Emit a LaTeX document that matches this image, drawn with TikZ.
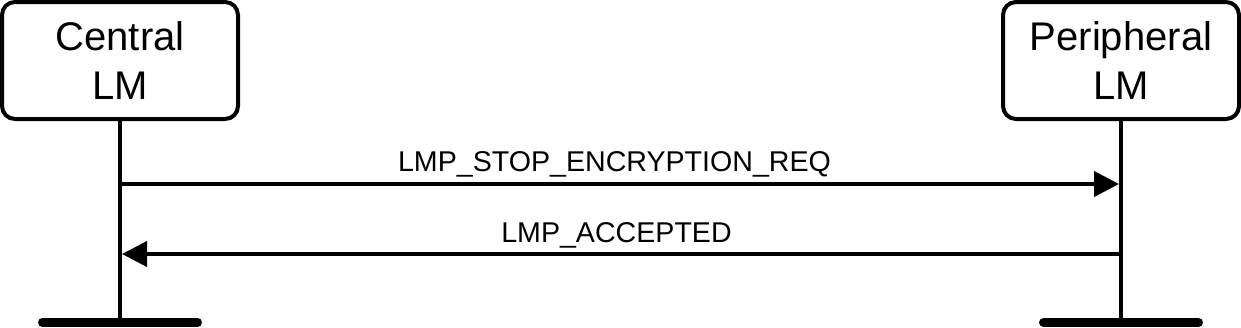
\documentclass[tikz,border=0pt]{standalone}
\usepackage{fontspec}
\setmainfont{Liberation Sans}
\usetikzlibrary{arrows.meta}
\begin{document}
\begin{tikzpicture}[x=1pt,y=-1pt,
  entity/.style={draw, line width=4pt, rounded corners=13pt, minimum width=236pt, minimum height=117pt, inner sep=0pt, align=center, font=\fontsize{40}{49}\selectfont},
  lifeline/.style={line width=4pt},
  endbar/.style={line width=9pt, line cap=round},
  msg/.style={line width=4pt, -{Triangle[length=25pt,width=25pt]}, shorten >=2pt},
  msglabel/.style={midway, anchor=base, font=\fontsize{28.6}{34}\selectfont}]
\useasboundingbox (0,0) rectangle (1241,327);
\node[entity] (cen) at (120,60.5) {Central\\LM};
\node[entity] (per) at (1121,60.5) {Peripheral\\LM};
\coordinate (cenEnd) at (120,322.5);
\coordinate (perEnd) at (1121,322.5);
\coordinate (cenBarL) at (42.5,322.5);
\coordinate (cenBarR) at (197.5,322.5);
\coordinate (perBarL) at (1043.5,322.5);
\coordinate (perBarR) at (1198.5,322.5);
\draw[lifeline] (cen.south) -- (cenEnd);
\draw[lifeline] (per.south) -- (perEnd);
\draw[endbar] (cenBarL) -- (cenBarR);
\draw[endbar] (perBarL) -- (perBarR);
\coordinate (m1c) at (120,184);
\coordinate (m1p) at (1121,184);
\coordinate (m2c) at (120,254);
\coordinate (m2p) at (1121,254);
\draw[msg] (m1c) -- node[msglabel, xshift=-6pt, yshift=13pt] (l1) {LMP\_STOP\_ENCRYPTION\_REQ} (m1p);
\draw[msg] (m2p) -- node[msglabel, xshift=-4pt, yshift=12pt] (l2) {LMP\_ACCEPTED} (m2c);
\end{tikzpicture}
\end{document}
